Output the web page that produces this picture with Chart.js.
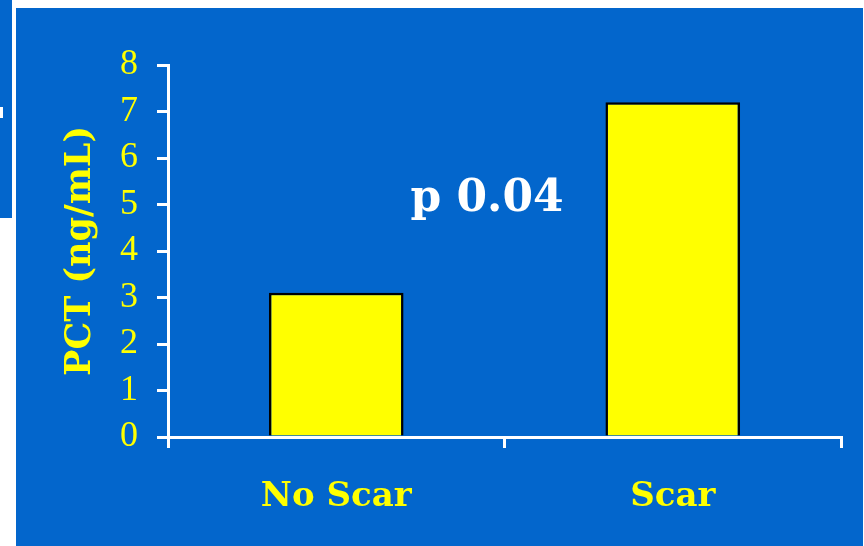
<!DOCTYPE html>
<html>
<head>
<meta charset="utf-8">
<script src="https://cdn.jsdelivr.net/npm/chart.js@4/dist/chart.umd.min.js"></script>
<style>
  html, body { margin: 0; padding: 0; background: #ffffff; }
  #wrap { width: 864px; height: 546px; }
</style>
</head>
<body>
<div id="wrap"><canvas id="c" width="864" height="546"></canvas></div>
<script>
// Procalcitonin by scar status
const categories = ['No Scar', 'Scar'];
const pctValues = [3.1, 7.2];
const yTicks = [0, 1, 2, 3, 4, 5, 6, 7, 8];
const yTitle = 'PCT (ng/mL)';
const pLabel = 'p 0.04';

const BLUE = '#0366cc';
const YELLOW = '#ffff00';
const WHITE = '#ffffff';

// Slide panels behind the plot
const panels = {
  id: 'panels',
  beforeDraw(chart) {
    const ctx = chart.ctx;
    ctx.save();
    ctx.fillStyle = WHITE;
    ctx.fillRect(0, 0, chart.width, chart.height);
    ctx.fillStyle = BLUE;
    ctx.fillRect(0, 0, 12, 218);
    ctx.fillRect(16, 8, 847, chart.height - 8);
    ctx.fillStyle = WHITE;
    ctx.fillRect(0, 107, 3, 11);
    ctx.restore();
  }
};

// Significance note drawn over the plot
const pNote = {
  id: 'pNote',
  afterDraw(chart) {
    const ctx = chart.ctx;
    ctx.save();
    ctx.fillStyle = WHITE;
    ctx.font = 'bold 44px "DejaVu Serif"';
    ctx.textAlign = 'center';
    ctx.textBaseline = 'middle';
    ctx.fillText(pLabel, 487, 200);
    ctx.restore();
  }
};

new Chart(document.getElementById('c'), {
  type: 'bar',
  data: {
    labels: categories,
    datasets: [{
      data: pctValues,
      backgroundColor: YELLOW,
      borderColor: '#000000',
      borderWidth: 2.5,
      borderSkipped: 'bottom',
      categoryPercentage: 1,
      barPercentage: 0.4
    }]
  },
  options: {
    responsive: false,
    devicePixelRatio: 1,
    animation: false,
    layout: { padding: { left: 60, top: 65, right: 23, bottom: 0 } },
    plugins: { legend: { display: false }, tooltip: { enabled: false } },
    scales: {
      x: {
        offset: true,
        grid: { display: true, drawOnChartArea: false, color: WHITE, lineWidth: 3, tickLength: 11, offset: true },
        border: { color: WHITE, width: 3 },
        ticks: { color: YELLOW, font: { family: 'DejaVu Serif', weight: 'bold', size: 34 }, padding: 29, maxRotation: 0 },
        afterFit(scale) { scale.height = 109; }
      },
      y: {
        min: 0,
        max: 8,
        afterBuildTicks(scale) { scale.ticks = yTicks.map(v => ({ value: v })); },
        grid: { display: true, drawOnChartArea: false, color: WHITE, lineWidth: 3, tickLength: 11 },
        border: { color: WHITE, width: 3 },
        ticks: { color: YELLOW, font: { family: 'Liberation Serif', size: 36 }, padding: 19 },
        title: { display: true, text: yTitle, color: YELLOW, font: { family: 'DejaVu Serif', weight: 'bold', size: 35 }, padding: 0 },
        afterFit(scale) { scale.width = 108; }
      }
    }
  },
  plugins: [panels, pNote]
});
</script>
</body>
</html>
